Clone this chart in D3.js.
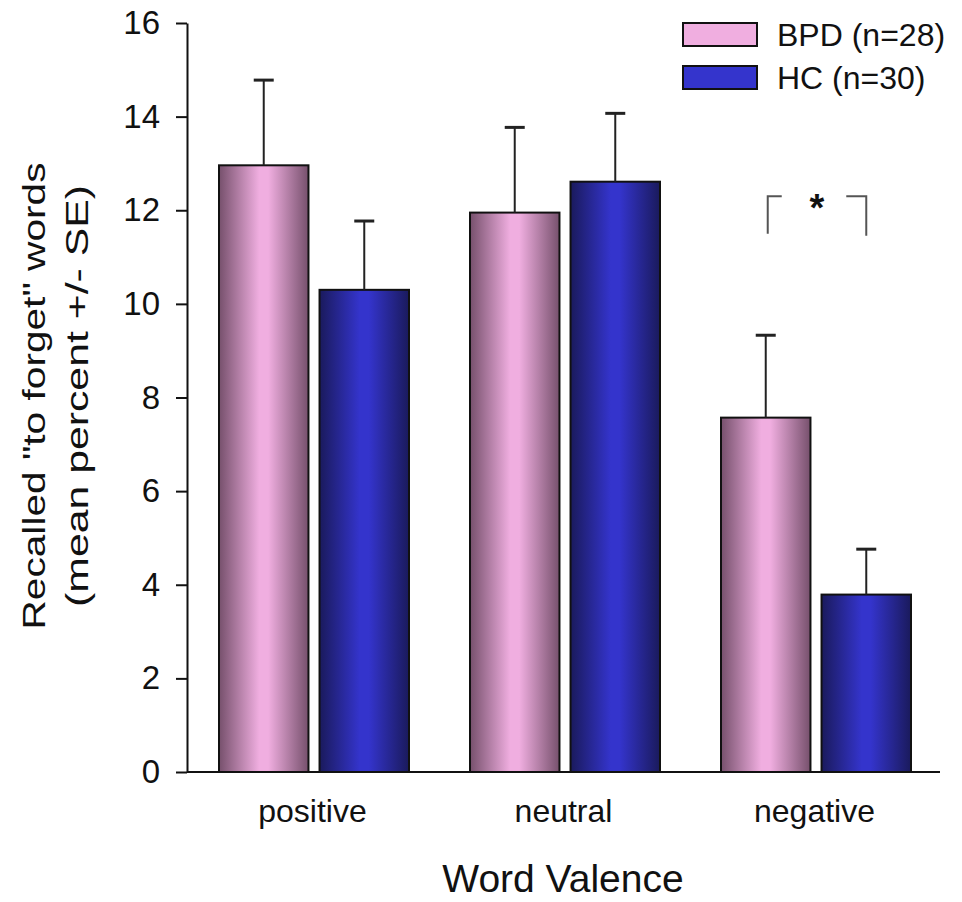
<!DOCTYPE html>
<html>
<head>
<meta charset="utf-8">
<script src="https://cdn.jsdelivr.net/npm/d3@7"></script>
<style>
  html, body { margin: 0; padding: 0; background: #fff; }
  svg text { font-family: "Liberation Sans", Arial, sans-serif; fill: #111; }
</style>
</head>
<body>
<div id="chart"></div>
<script>
// Recalled "to forget" words by valence, BPD vs HC
const categories = ["positive", "neutral", "negative"];
const groups = ["BPD (n=28)", "HC (n=30)"];
const bpdMeans = [12.96, 11.95, 7.57];
const bpdSE = [1.82, 1.82, 1.76];
const hcMeans = [10.30, 12.61, 3.79];
const hcSE = [1.47, 1.46, 0.97];
const yTicks = [0, 2, 4, 6, 8, 10, 12, 14, 16];

const width = 962, height = 902;
const margin = { top: 23, right: 22, bottom: 130, left: 187 };
const innerW = width - margin.left - margin.right;
const innerH = height - margin.top - margin.bottom;

const svg = d3.select("#chart").append("svg")
    .attr("width", width)
    .attr("height", height);

// gradients for the shaded bars
const defs = svg.append("defs");
function addGradient(id, edge, mid) {
    const g = defs.append("linearGradient").attr("id", id)
        .attr("x1", "0%").attr("x2", "100%").attr("y1", "0%").attr("y2", "0%");
    g.append("stop").attr("offset", "0%").attr("stop-color", edge);
    g.append("stop").attr("offset", "45%").attr("stop-color", mid);
    g.append("stop").attr("offset", "55%").attr("stop-color", mid);
    g.append("stop").attr("offset", "100%").attr("stop-color", edge);
}
addGradient("grad-bpd", "#76506c", "#f0aee0");
addGradient("grad-hc", "#1a1a5c", "#3434cc");

const fills = ["url(#grad-bpd)", "url(#grad-hc)"];
const flat = ["#f0aee0", "#3434cc"];

const g = svg.append("g").attr("transform", `translate(${margin.left},${margin.top})`);

const x0 = d3.scaleBand().domain(categories).range([0, innerW]).padding(0);
const x1 = d3.scaleBand().domain(groups).range([32, 222]).paddingInner(0.11);
const y = d3.scaleLinear().domain([0, 16]).range([innerH, 0]);

const rows = categories.map((c, i) => ({
    cat: c,
    vals: [
        { grp: groups[0], mean: bpdMeans[i], se: bpdSE[i], k: 0 },
        { grp: groups[1], mean: hcMeans[i], se: hcSE[i], k: 1 }
    ]
}));

// y axis
const yAxis = g.append("g")
    .call(d3.axisLeft(y).tickValues(yTicks).tickSize(11).tickSizeOuter(0).tickPadding(16));
yAxis.select(".domain").attr("stroke", "#111").attr("stroke-width", 2);
yAxis.selectAll(".tick line").attr("stroke", "#111").attr("stroke-width", 2);
yAxis.selectAll(".tick text").style("font-size", "33px").attr("fill", "#111");

// x axis baseline (no ticks)
g.append("line")
    .attr("x1", 0).attr("x2", innerW)
    .attr("y1", y(0)).attr("y2", y(0))
    .attr("stroke", "#111").attr("stroke-width", 2);

// bars
const grp = g.selectAll(".grp").data(rows).enter().append("g")
    .attr("transform", d => `translate(${x0(d.cat)},0)`);

grp.selectAll("rect").data(d => d.vals).enter().append("rect")
    .attr("x", d => x1(d.grp))
    .attr("y", d => y(d.mean))
    .attr("width", x1.bandwidth())
    .attr("height", d => y(0) - y(d.mean))
    .attr("fill", d => fills[d.k])
    .attr("stroke", "#111")
    .attr("stroke-width", 2);

// error bars (upper only)
const capW = 20;
grp.selectAll(".err").data(d => d.vals).enter().append("line")
    .attr("x1", d => x1(d.grp) + x1.bandwidth() / 2)
    .attr("x2", d => x1(d.grp) + x1.bandwidth() / 2)
    .attr("y1", d => y(d.mean))
    .attr("y2", d => y(d.mean + d.se))
    .attr("stroke", "#222").attr("stroke-width", 2);
grp.selectAll(".cap").data(d => d.vals).enter().append("line")
    .attr("x1", d => x1(d.grp) + x1.bandwidth() / 2 - capW / 2)
    .attr("x2", d => x1(d.grp) + x1.bandwidth() / 2 + capW / 2)
    .attr("y1", d => y(d.mean + d.se))
    .attr("y2", d => y(d.mean + d.se))
    .attr("stroke", "#222").attr("stroke-width", 3);

// category labels
g.selectAll(".cat-label").data(categories).enter().append("text")
    .attr("x", d => x0(d) + x0.bandwidth() / 2)
    .attr("y", y(0) + 50)
    .attr("text-anchor", "middle")
    .style("font-size", "32px")
    .text(d => d);

// significance bracket over negative
const negX = x0("negative");
const bL = negX + x1(groups[0]) + x1.bandwidth() / 2 + 2;
const bR = negX + x1(groups[1]) + x1.bandwidth() / 2;
const bTop = y(12.3), bBot = y(11.5);
g.append("path")
    .attr("d", `M${bL},${bBot} V${bTop} H${bL + 14}`)
    .attr("fill", "none").attr("stroke", "#555").attr("stroke-width", 2);
g.append("path")
    .attr("d", `M${bR - 20},${bTop} H${bR} V${bBot + 2}`)
    .attr("fill", "none").attr("stroke", "#555").attr("stroke-width", 2);
g.append("text")
    .attr("x", (bL + bR) / 2)
    .attr("y", bTop + 25)
    .attr("text-anchor", "middle")
    .style("font-size", "38px")
    .style("font-weight", "bold")
    .text("*");

// legend
const legend = svg.append("g").attr("transform", "translate(683,23)");
groups.forEach((name, i) => {
    legend.append("rect")
        .attr("x", 0).attr("y", i * 43)
        .attr("width", 74).attr("height", 23)
        .attr("fill", flat[i]).attr("stroke", "#111").attr("stroke-width", 2);
    legend.append("text")
        .attr("x", 94).attr("y", i * 43 + 23)
        .style("font-size", "32px")
        .text(name);
});

// axis titles
svg.append("text")
    .attr("x", 563)
    .attr("y", 892)
    .attr("text-anchor", "middle")
    .style("font-size", "39px")
    .text("Word Valence");

const yt = svg.append("text")
    .attr("transform", "translate(0,396) rotate(-90)")
    .attr("text-anchor", "middle")
    .style("font-size", "32px");
yt.append("tspan").attr("x", 0).attr("y", 45)
    .attr("textLength", 467).attr("lengthAdjust", "spacingAndGlyphs")
    .text('Recalled "to forget" words');
yt.append("tspan").attr("x", 0).attr("y", 88)
    .attr("textLength", 422).attr("lengthAdjust", "spacingAndGlyphs")
    .text("(mean percent +/- SE)");
</script>
</body>
</html>
